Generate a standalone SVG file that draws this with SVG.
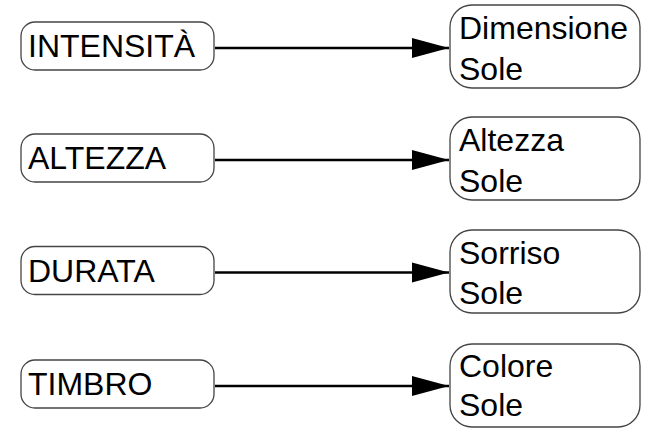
<svg xmlns="http://www.w3.org/2000/svg" width="655" height="436" viewBox="0 0 655 436">
<defs>
<marker id="ah" markerUnits="userSpaceOnUse" markerWidth="38" markerHeight="22" refX="37" refY="11" orient="auto">
<path d="M0,1 L37,11 L0,21 Z" fill="#000"/>
</marker>
<style>
.box{fill:#fff;stroke:#444;stroke-width:1.3}
.t{font-family:"Liberation Sans",Arial,sans-serif;font-size:32px;fill:#000}
.c{stroke:#000;stroke-width:2.6;fill:none}
</style>
</defs>
<rect width="655" height="436" fill="#fff"/>
<g id="connectors">
<line class="c" x1="215" y1="48" x2="449" y2="48" marker-end="url(#ah)"/>
<line class="c" x1="215" y1="160" x2="449" y2="160" marker-end="url(#ah)"/>
<line class="c" x1="215" y1="272.5" x2="449" y2="272.5" marker-end="url(#ah)"/>
<line class="c" x1="215" y1="386" x2="449" y2="386" marker-end="url(#ah)"/>
</g>
<g id="n1"><rect class="box" x="21" y="22" width="193" height="48" rx="14"/><text class="t" x="28" y="57">INTENSITÀ</text></g>
<g id="n2"><rect class="box" x="21" y="134" width="193" height="48" rx="14"/><text class="t" x="28" y="169">ALTEZZA</text></g>
<g id="n3"><rect class="box" x="21" y="246.5" width="193" height="48" rx="14"/><text class="t" x="28" y="282">DURATA</text></g>
<g id="n4"><rect class="box" x="21" y="360" width="193" height="48" rx="14"/><text class="t" x="28" y="395">TIMBRO</text></g>
<g id="m1"><rect class="box" x="450" y="5" width="190" height="83" rx="22"/><text class="t" x="459" y="39">Dimensione</text><text class="t" x="459" y="80">Sole</text></g>
<g id="m2"><rect class="box" x="450" y="117" width="190" height="83" rx="22"/><text class="t" x="459" y="151">Altezza</text><text class="t" x="459" y="192">Sole</text></g>
<g id="m3"><rect class="box" x="450" y="230" width="190" height="83" rx="22"/><text class="t" x="459" y="264">Sorriso</text><text class="t" x="459" y="304">Sole</text></g>
<g id="m4"><rect class="box" x="450" y="344" width="190" height="83" rx="22"/><text class="t" x="459" y="377">Colore</text><text class="t" x="459" y="416">Sole</text></g>
</svg>
